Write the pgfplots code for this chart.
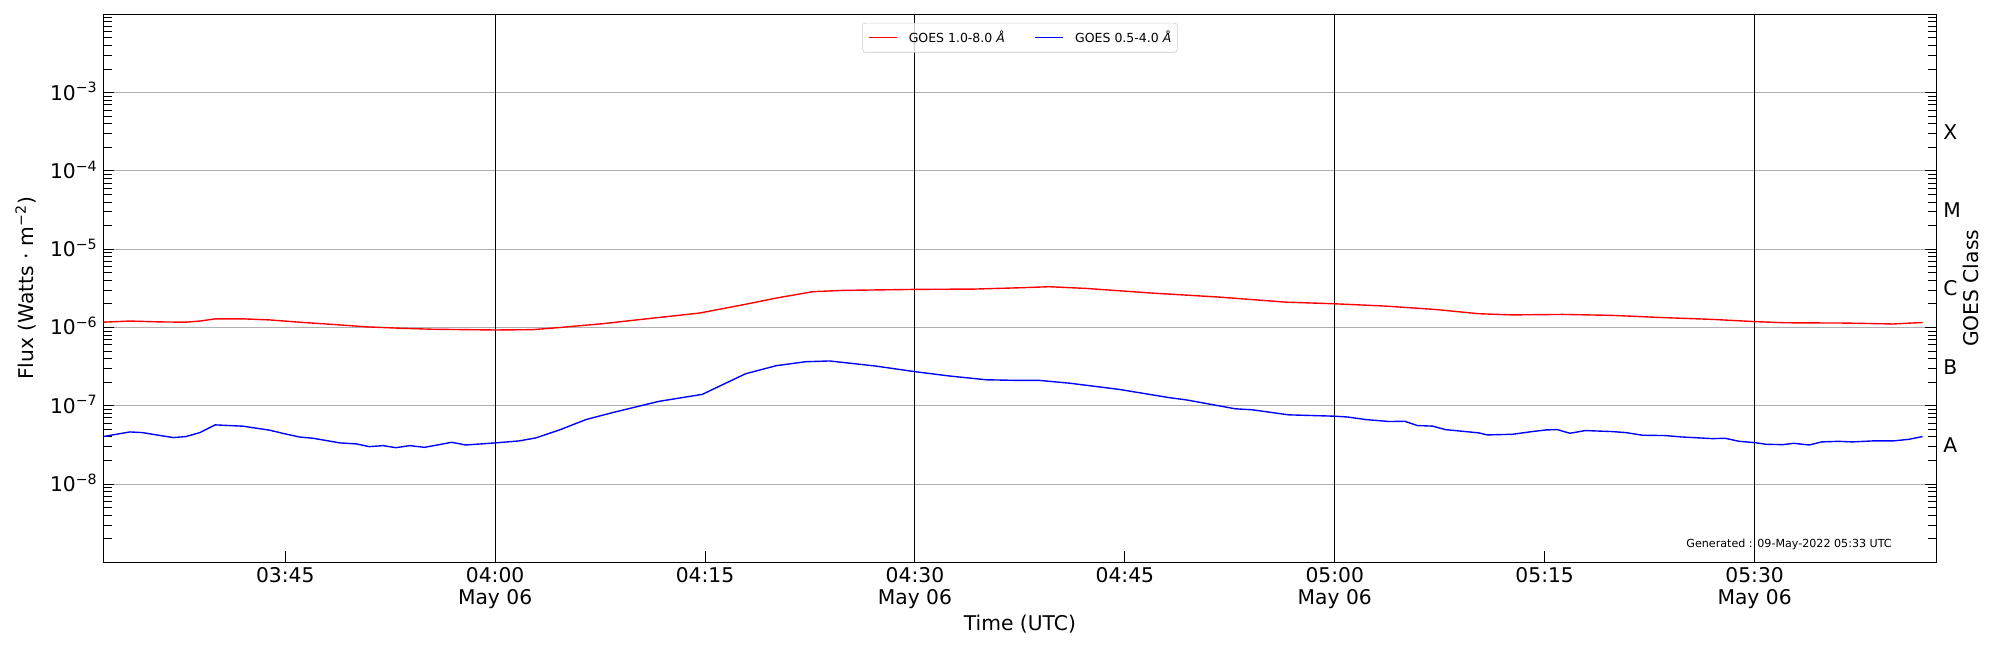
\documentclass[border=0pt]{standalone}
\usepackage{fontspec}
\setmainfont{DejaVu Sans}
\usepackage{pgfplots}
\pgfplotsset{compat=1.18}
\usepackage{pgfplotstable}

% time in minutes after 03:00 UTC, flux in W m^-2
\pgfplotstableread{
m flux
32 1.17e-6
33.9 1.21e-6
36 1.18e-6
37.9 1.17e-6
38.9 1.21e-6
40 1.29e-6
42 1.29e-6
43.9 1.25e-6
46 1.17e-6
48.9 1.08e-6
50.8 1.02e-6
53.2 0.98e-6
55.6 0.95e-6
57.9 0.94e-6
60 0.93e-6
62.7 0.94e-6
64.6 1.0e-6
67.7 1.12e-6
71.3 1.32e-6
74.6 1.53e-6
77.7 1.95e-6
80.1 2.38e-6
82.7 2.87e-6
84.8 2.98e-6
90 3.07e-6
94.3 3.1e-6
97.5 3.22e-6
99.6 3.32e-6
102.2 3.16e-6
107 2.75e-6
111.7 2.45e-6
116.5 2.11e-6
120 2.01e-6
123.6 1.88e-6
127.2 1.70e-6
130.3 1.50e-6
132.7 1.45e-6
136.3 1.47e-6
139.8 1.43e-6
143.4 1.34e-6
147 1.27e-6
150 1.19e-6
152.2 1.15e-6
156.5 1.14e-6
159.9 1.11e-6
162 1.16e-6
}\longtable

\pgfplotstableread{
m flux
32 4.05e-8
33.9 4.64e-8
34.8 4.55e-8
35.8 4.25e-8
37 3.93e-8
37.9 4.05e-8
38.9 4.55e-8
40 5.71e-8
42 5.49e-8
43.9 4.88e-8
44.8 4.46e-8
46 4.0e-8
47 3.85e-8
48.9 3.36e-8
50.1 3.26e-8
51 3.01e-8
52 3.1e-8
52.9 2.92e-8
53.9 3.1e-8
54.95 2.95e-8
56.9 3.42e-8
57.9 3.16e-8
60 3.36e-8
61.7 3.56e-8
62.9 3.89e-8
64.6 4.92e-8
66.5 6.68e-8
68.4 8.2e-8
71.7 1.14e-7
74.8 1.40e-7
77.9 2.57e-7
80.1 3.26e-7
82.2 3.66e-7
83.9 3.74e-7
87.2 3.22e-7
90 2.73e-7
92.5 2.40e-7
95.1 2.15e-7
97.5 2.11e-7
98.9 2.11e-7
101 1.95e-7
104.6 1.62e-7
108.2 1.27e-7
109.4 1.19e-7
112.9 9.16e-8
114.1 8.9e-8
116.7 7.67e-8
120 7.37e-8
120.9 7.2e-8
122.2 6.68e-8
123.9 6.3e-8
125 6.35e-8
125.9 5.6e-8
127 5.5e-8
127.9 4.97e-8
130.3 4.51e-8
130.9 4.25e-8
132.7 4.33e-8
134.1 4.69e-8
135.1 4.92e-8
135.9 4.97e-8
136.8 4.46e-8
137.9 4.83e-8
139.8 4.69e-8
140.8 4.55e-8
142 4.21e-8
143.6 4.17e-8
144.8 4.0e-8
147 3.81e-8
147.9 3.85e-8
148.9 3.52e-8
150 3.39e-8
150.8 3.23e-8
152 3.19e-8
152.8 3.32e-8
153.9 3.16e-8
154.8 3.46e-8
156 3.52e-8
157 3.46e-8
158.4 3.56e-8
159.9 3.56e-8
161 3.73e-8
162 4.05e-8
}\shorttable

\newcommand{\bigfont}{\fontsize{14.6}{15.6}\selectfont}

\begin{document}
\begin{tikzpicture}
\path[use as bounding box] (-74.38pt,-63.07pt) rectangle (1365.62pt,404.93pt);
\begin{axis}[
  at={(0pt,0pt)}, anchor=south west,
  scale only axis, width=1319.9pt, height=394.6pt,
  xmin=32, xmax=163, ymode=log, ymin=1e-9, ymax=1e-2,
  axis line style={line width=1pt},
  xtick={45,60,75,90,105,120,135,150},
  xticklabels={03:45,{04:00\\May 06},04:15,{04:30\\May 06},04:45,{05:00\\May 06},05:15,{05:30\\May 06}},
  xtick pos=left,
  ytick={1e-8,1e-7,1e-6,1e-5,1e-4,1e-3},
  yticklabels={10\textsuperscript{−8},10\textsuperscript{−7},10\textsuperscript{−6},10\textsuperscript{−5},10\textsuperscript{−4},10\textsuperscript{−3}},
  minor ytick={2e-9,3e-9,4e-9,5e-9,6e-9,7e-9,8e-9,9e-9,2e-8,3e-8,4e-8,5e-8,6e-8,7e-8,8e-8,9e-8,2e-7,3e-7,4e-7,5e-7,6e-7,7e-7,8e-7,9e-7,2e-6,3e-6,4e-6,5e-6,6e-6,7e-6,8e-6,9e-6,2e-5,3e-5,4e-5,5e-5,6e-5,7e-5,8e-5,9e-5,2e-4,3e-4,4e-4,5e-4,6e-4,7e-4,8e-4,9e-4,2e-3,3e-3,4e-3,5e-3,6e-3,7e-3,8e-3,9e-3},
  ytick pos=both,
  tick align=inside,
  major tick length=8pt, minor tick length=6pt,
  tick style={black, line width=0.7pt},
  ymajorgrids, major grid style={color=black!31, line width=0.7pt},
  tick label style={font=\bigfont},
  xticklabel style={align=center, anchor=north, inner sep=0pt, yshift=-3.6pt},
  yticklabel style={anchor=base east, inner sep=0pt, xshift=-4pt, yshift=-5.3pt},
  xlabel={Time (UTC)},
  xlabel style={at={(axis description cs:0.5,0)}, anchor=north, inner sep=0pt, yshift=-37.9pt, font=\bigfont},
  ylabel={Flux (Watts · m\textsuperscript{−2})},
  ylabel style={at={(axis description cs:-0.03824,0.5)}, anchor=base, inner sep=0pt, font=\bigfont},
  legend columns=2,
  legend cell align=left,
  legend image code/.code={\draw[#1, line width=1pt] (0pt,0pt) -- (20.4pt,0pt);},
  legend style={
    at={(0.5,1)}, anchor=north, yshift=-6.05pt,
    draw=black!20, rounded corners=2pt, fill=white, fill opacity=0.8, text opacity=1,
    font=\fontsize{9}{10.8}\selectfont,
    inner xsep=3.8pt, inner ysep=5.6pt,
    nodes={inner sep=0pt},
    column sep=0pt,
  },
]
\addplot[black, line width=0.75pt, forget plot] coordinates {(60,1e-9) (60,1e-2)};
\addplot[black, line width=0.75pt, forget plot] coordinates {(90,1e-9) (90,1e-2)};
\addplot[black, line width=0.75pt, forget plot] coordinates {(120,1e-9) (120,1e-2)};
\addplot[black, line width=0.75pt, forget plot] coordinates {(150,1e-9) (150,1e-2)};
\addplot[red, line width=1pt] table[x=m, y=flux] {\longtable};
\addlegendentry{\hspace*{8.1pt}GOES 1.0-8.0 {\itshape Å}\hspace*{21.1pt}}
\addplot[blue, line width=1pt] table[x=m, y=flux] {\shorttable};
\addlegendentry{\hspace*{8.1pt}GOES 0.5-4.0 {\itshape Å}\hspace*{0.5pt}}
\node[anchor=base east, inner sep=0pt, yshift=-2.9pt, font=\fontsize{8}{9.6}\selectfont] at (rel axis cs:0.97573,0.03375) {Generated : 09-May-2022 05:33 UTC};
\end{axis}
\begin{axis}[
  at={(0pt,0pt)}, anchor=south west,
  scale only axis, width=1319.9pt, height=394.6pt,
  xmin=32, xmax=163, ymode=log, ymin=1e-9, ymax=1e-2,
  hide x axis, axis y line*=right, axis line style={draw=none},
  ytick={3.1623e-8,3.1623e-7,3.1623e-6,3.1623e-5,3.1623e-4},
  yticklabels={A,B,C,M,X},
  major tick length=0pt, minor y tick style={draw=none},
  tick label style={font=\bigfont},
  yticklabel style={anchor=base west, inner sep=0pt, xshift=4.7pt, yshift=-5.3pt},
  ylabel={GOES Class},
  ylabel style={at={(axis description cs:1.02275,0.5)}, anchor=base, inner sep=0pt, font=\bigfont},
]
\end{axis}
\end{tikzpicture}
\end{document}
